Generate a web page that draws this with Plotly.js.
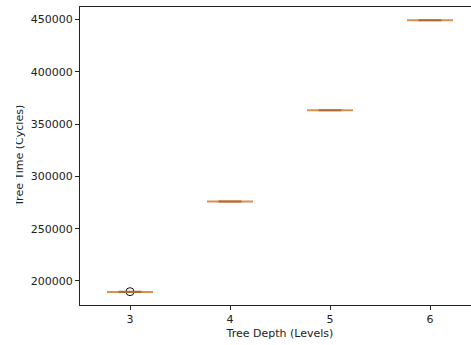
<!DOCTYPE html>
<html>
<head>
<meta charset="utf-8">
<script src="https://cdn.plot.ly/plotly-3.0.1.min.js"></script>
<style>
html, body { margin: 0; padding: 0; overflow: hidden; background: #fff; }
#wrap { width: 471px; height: 345px; overflow: hidden; position: relative; }
#chart { width: 481px; height: 345px; position: absolute; left: 0; top: 0; }
#mask { position: absolute; left: 0; top: 0; width: 16px; height: 345px; background: #fff; }
</style>
</head>
<body>
<div id="wrap">
<div id="chart"></div>
<div id="mask"></div>
</div>
<script>
// Data
const depths = [3, 4, 5, 6];
const depthTicks = ['3', '4', '5', '6'];
const timesDepth3 = [189500, 189500, 189500, 189500, 189500, 189500, 189500, 189500, 189500, 189800];
const timesDepth4 = [276000, 276000, 276000, 276000, 276000, 276000, 276000, 276000, 276000, 276000];
const timesDepth5 = [363200, 363200, 363200, 363200, 363200, 363200, 363200, 363200, 363200, 363200];
const timesDepth6 = [449300, 449300, 449300, 449300, 449300, 449300, 449300, 449300, 449300, 449300];
const yTickVals = [200000, 250000, 300000, 350000, 400000, 450000];
const yTickText = ['200000', '250000', '300000', '350000', '400000', '450000'];

const series = [timesDepth3, timesDepth4, timesDepth5, timesDepth6];
const xs = [], ys = [];
series.forEach((vals, i) => vals.forEach(v => { xs.push(depths[i]); ys.push(v); }));

const font = { family: 'DejaVu Sans, sans-serif', size: 11, color: '#222' };

const traces = [
  {
    type: 'box', x: xs, y: ys, width: 0.46, whiskerwidth: 0.5,
    line: { color: '#d8904f', width: 2 }, fillcolor: 'rgba(0,0,0,0)',
    boxpoints: 'outliers', jitter: 0, pointpos: 0,
    marker: { symbol: 'circle-open', color: '#111', size: 8, line: { width: 1, color: '#111' } },
    hoverinfo: 'skip', showlegend: false
  },
  {
    type: 'box', x: xs, y: ys, width: 0.23, whiskerwidth: 1,
    line: { color: '#b06a34', width: 2 }, fillcolor: 'rgba(0,0,0,0)',
    boxpoints: false, hoverinfo: 'skip', showlegend: false
  }
];

const layout = {
  width: 481, height: 345, autosize: false,
  margin: { l: 80, r: 1, t: 7, b: 40 },
  paper_bgcolor: '#fff', plot_bgcolor: '#fff',
  boxmode: 'overlay',
  font: font,
  showlegend: false,
  xaxis: {
    type: 'linear', range: [2.5, 6.5],
    tickmode: 'array', tickvals: depths, ticktext: depthTicks,
    ticks: 'outside', ticklen: 4, tickwidth: 1, tickcolor: '#222',
    showline: true, linecolor: '#222', linewidth: 1, mirror: true,
    showgrid: false, zeroline: false,
    tickfont: font,
    title: { text: 'Tree Depth (Levels)', font: font, standoff: 4 }
  },
  yaxis: {
    range: [177050, 461950],
    tickmode: 'array', tickvals: yTickVals, ticktext: yTickText,
    ticks: 'outside', ticklen: 4, tickwidth: 1, tickcolor: '#222',
    showline: true, linecolor: '#222', linewidth: 1, mirror: false,
    showgrid: false, zeroline: false,
    tickfont: font
  },
  annotations: [{
    text: 'Tree Time (Cycles)', textangle: -90,
    xref: 'paper', yref: 'paper', x: 0, y: 0.5,
    xanchor: 'center', yanchor: 'middle', xshift: -61,
    showarrow: false, font: font
  }]
};

Plotly.newPlot('chart', traces, layout, { staticPlot: true, displayModeBar: false });
</script>
</body>
</html>
